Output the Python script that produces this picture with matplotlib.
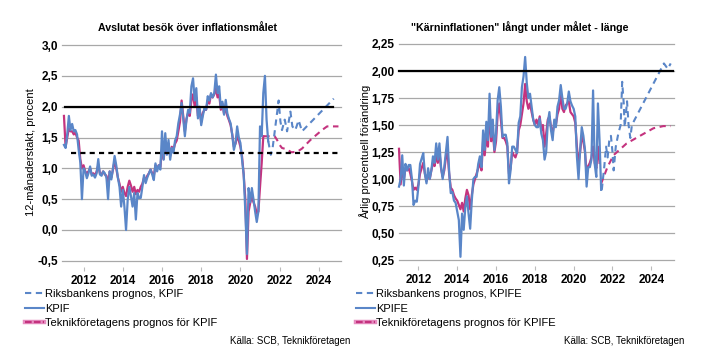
import matplotlib
matplotlib.use("Agg")
import matplotlib.pyplot as plt
import numpy as np
from matplotlib.lines import Line2D
from matplotlib.ticker import FuncFormatter

plt.rcParams['font.family'] = ['Liberation Sans', 'DejaVu Sans']

BLUE = '#5A86C8'
MAGENTA = '#C4337E'
PINK = '#E58CC0'
GRID = '#A8A8A8'

# monthly data from Jan 2011
start_year = 2011

# KPIF, 12-month rate
kpif = [1.38, 1.33, 1.55, 1.85, 1.62, 1.72, 1.6, 1.62, 1.55, 1.3, 1.1, 0.5,
        1.0, 0.95, 0.84, 0.92, 1.03, 0.88, 0.9, 0.85, 0.92, 1.15, 0.9, 0.88,
        0.95, 0.92, 0.85, 0.5, 0.95, 0.82, 1.0, 1.2, 1.05, 0.85, 0.7, 0.38,
        0.65, 0.38, 0.0, 0.49, 0.7, 0.55, 0.38, 0.6, 0.17, 0.6, 0.52, 0.52,
        0.7, 0.89, 0.76, 0.85, 0.92, 0.98, 0.9, 0.81, 1.08, 0.95, 1.05, 0.98,
        1.6, 1.14, 1.57, 1.22, 1.46, 1.14, 1.33, 1.25, 1.45, 1.52, 1.73, 1.87,
        2.06, 1.81, 1.52, 1.79, 1.95, 1.9, 2.33, 2.46, 2.1, 2.3, 1.81, 2.0,
        1.7, 1.85, 1.98, 1.95, 2.17, 2.1, 2.22, 2.15, 2.22, 2.52, 2.22, 2.33,
        1.98, 2.08, 1.87, 2.11, 1.89, 1.8, 1.73, 1.54, 1.3, 1.41, 1.68, 1.5,
        1.41, 1.14, 0.9, 0.3, -0.39, 0.68, 0.45, 0.68, 0.5, 0.3, 0.13, 0.3,
        1.68, 1.52, 2.22, 2.5, 1.79, 1.44]

# Teknikforetagen KPIF (history)
tekn_kpif = [1.85, 1.35, 1.5, 1.65, 1.6, 1.6, 1.55, 1.58, 1.5, 1.45, 1.15, 1.0,
             1.05, 0.95, 0.92, 0.95, 1.0, 0.9, 0.92, 0.88, 0.95, 1.05, 0.92, 0.9,
             0.95, 0.9, 0.88, 0.75, 0.95, 0.85, 0.98, 1.12, 1.0, 0.85, 0.75, 0.62,
             0.7, 0.6, 0.55, 0.7, 0.8, 0.72, 0.62, 0.7, 0.58, 0.65, 0.62, 0.7,
             0.75, 0.85, 0.82, 0.88, 0.92, 0.98, 0.92, 0.88, 1.05, 1.0, 1.05, 1.02,
             1.3, 1.15, 1.35, 1.25, 1.4, 1.2, 1.35, 1.3, 1.4, 1.45, 1.6, 1.75,
             2.1, 1.85, 1.6, 1.8, 1.9, 1.85, 2.1, 2.2, 2.0, 2.15, 1.85, 1.95,
             1.75, 1.9, 1.95, 1.95, 2.1, 2.05, 2.2, 2.15, 2.2, 2.3, 2.15, 2.2,
             1.95, 2.05, 1.88, 2.0, 1.85, 1.78, 1.7, 1.55, 1.35, 1.4, 1.52, 1.45,
             1.35, 1.19, 0.9, 0.5, -0.47, 0.3, 0.44, 0.54, 0.45, 0.38, 0.27, 0.3,
             0.7, 1.08, 1.52]

# forecasts KPIF (decimal years)
riks_kpif_x = [2021.42, 2021.55, 2021.63, 2021.75, 2021.95, 2022.04, 2022.12, 2022.26,
               2022.38, 2022.55, 2022.65, 2022.8, 2022.97, 2023.14, 2024.76]
riks_kpif = [1.44, 1.22, 1.3, 1.6, 2.1, 1.76, 1.62, 1.79, 1.6, 1.92, 1.68, 1.62, 1.78, 1.6, 2.13]

tekn_kpif_fc_x = [2021.17, 2021.75, 2021.87, 2022.0, 2022.12, 2022.35, 2022.6, 2022.9,
                  2023.14, 2023.57, 2024.16, 2024.42, 2025.0]
tekn_kpif_fc = [1.52, 1.52, 1.46, 1.38, 1.33, 1.31, 1.26, 1.27, 1.32, 1.46, 1.62, 1.68, 1.68]

# KPIFE, annual change
kpife = [0.93, 1.0, 1.22, 0.94, 1.14, 1.08, 1.13, 1.13, 1.0, 0.76, 0.8, 0.79,
         0.93, 1.14, 1.19, 1.24, 1.05, 0.96, 1.1, 1.0, 1.08, 1.21, 1.15, 1.33,
         1.18, 1.33, 1.11, 1.0, 1.11, 1.25, 1.39, 1.07, 0.87, 0.88, 0.8, 0.78,
         0.7, 0.62, 0.28, 0.68, 0.53, 0.74, 0.84, 0.68, 0.54, 0.8, 1.0, 1.02,
         1.02, 1.14, 1.21, 1.11, 1.45, 1.27, 1.53, 1.36, 1.79, 1.39, 1.55, 1.27,
         1.42, 1.73, 1.85, 1.67, 1.39, 1.41, 1.41, 1.33, 0.96, 1.08, 1.3, 1.3,
         1.27, 1.24, 1.52, 1.58, 1.85, 1.95, 2.13, 1.89, 1.75, 1.79, 1.67, 1.55,
         1.5, 1.48, 1.48, 1.56, 1.42, 1.36, 1.18, 1.25, 1.52, 1.62, 1.45, 1.36,
         1.55, 1.48, 1.67, 1.73, 1.87, 1.75, 1.65, 1.65, 1.7, 1.81, 1.72, 1.68,
         1.65, 1.58, 1.21, 1.0, 1.27, 1.48, 1.4, 1.27, 0.93, 1.11, 1.11, 1.18,
         1.82, 1.14, 1.02, 1.7, 1.36, 0.9]

tekn_kpife = [1.28, 0.95, 1.1, 1.0, 1.1, 1.08, 1.1, 1.05, 0.98, 0.9, 0.92, 0.9,
              0.95, 1.05, 1.1, 1.15, 1.05, 0.98, 1.05, 1.0, 1.08, 1.15, 1.12, 1.22,
              1.15, 1.25, 1.1, 1.02, 1.08, 1.2, 1.25, 1.05, 0.92, 0.9, 0.85, 0.82,
              0.8, 0.76, 0.72, 0.78, 0.7, 0.82, 0.9, 0.85, 0.72, 0.85, 0.95, 1.0,
              1.05, 1.1, 1.15, 1.08, 1.35, 1.22, 1.42, 1.3, 1.65, 1.35, 1.45, 1.25,
              1.35, 1.6, 1.7, 1.55, 1.38, 1.38, 1.35, 1.3, 1.05, 1.1, 1.25, 1.22,
              1.2, 1.25, 1.45, 1.5, 1.6, 1.7, 1.88, 1.72, 1.65, 1.7, 1.62, 1.55,
              1.5, 1.55, 1.5, 1.58, 1.45, 1.5, 1.3, 1.42, 1.55, 1.58, 1.48, 1.42,
              1.52, 1.5, 1.6, 1.65, 1.8, 1.65, 1.62, 1.68, 1.7, 1.72, 1.62, 1.6,
              1.58, 1.52, 1.3, 1.15, 1.25, 1.4, 1.35, 1.25, 1.05, 1.12, 1.15, 1.2,
              1.3, 1.15, 1.1, 1.3, 1.15]

riks_kpife_x = [2021.45, 2021.58, 2021.67, 2021.75, 2021.83, 2021.92, 2022.0, 2022.06,
                2022.17, 2022.3, 2022.42, 2022.5, 2022.58, 2022.63, 2022.75, 2022.83,
                2022.92, 2023.0, 2024.65, 2024.85, 2025.0]
riks_kpife = [0.9, 1.12, 1.3, 1.2, 1.35, 1.4, 1.25, 1.08, 1.3, 1.42, 1.5, 1.9, 1.7,
              1.48, 1.72, 1.5, 1.38, 1.5, 2.07, 2.02, 2.07]

tekn_kpife_fc_x = [2021.4, 2021.74, 2022.05, 2022.73, 2023.42, 2024.11, 2024.62, 2025.0]
tekn_kpife_fc = [0.95, 1.11, 1.22, 1.33, 1.4, 1.47, 1.49, 1.49]

year_ticks = [2012, 2014, 2016, 2018, 2020, 2022, 2024]


def monthly_x(vals):
    return start_year + np.arange(len(vals)) / 12.0


def comma(dec):
    fmt = '%.' + str(dec) + 'f'
    return FuncFormatter(lambda v, p: (fmt % v).replace('.', ','))


def panel(ax, hist, tekn, rx, ry, tx, ty, yticks, ylim, xlim, dec):
    for y in yticks:
        ax.axhline(y, color=GRID, lw=0.9, zorder=0)
    ax.plot(monthly_x(tekn), tekn, color=MAGENTA, lw=1.6, zorder=3)
    ax.plot(monthly_x(hist), hist, color=BLUE, lw=1.6, zorder=4)
    ax.plot(tx, ty, color=MAGENTA, lw=1.5, dashes=(3, 2.2), zorder=3)
    ax.plot(rx, ry, color=BLUE, lw=1.5, dashes=(3, 2.2), zorder=4)
    ax.set_xlim(*xlim)
    ax.set_ylim(*ylim)
    ax.set_yticks(yticks)
    ax.yaxis.set_major_formatter(comma(dec))
    ax.set_xticks(year_ticks)
    ax.set_xticklabels([str(y) for y in year_ticks])
    for s in ax.spines.values():
        s.set_visible(False)
    ax.tick_params(axis='y', length=0, pad=3, labelsize=8.5)
    ax.tick_params(axis='x', length=3, color='#BBBBBB', pad=3, labelsize=8.5)
    for lab in ax.get_xticklabels() + ax.get_yticklabels():
        lab.set_fontweight('bold')


fig = plt.figure(figsize=(7.23, 3.63), dpi=100)

ax1 = fig.add_axes([62 / 723, 1 - 267 / 363, 279 / 723, 222 / 363])
panel(ax1, kpif, tekn_kpif, riks_kpif_x, riks_kpif, tekn_kpif_fc_x, tekn_kpif_fc,
      [-0.5, 0.0, 0.5, 1.0, 1.5, 2.0, 2.5, 3.0], (-0.6, 3.0), (2010.9, 2025.13), 1)
ax1.plot([2011.07, 2024.74], [2.0, 2.0], color='black', lw=1.6, zorder=5)
ax1.plot([2011.37, 2024.99], [1.25, 1.25], color='black', lw=1.6, dashes=(2.3, 1.9), zorder=5)

ax2 = fig.add_axes([399 / 723, 1 - 266 / 363, 275 / 723, 222 / 363])
panel(ax2, kpife, tekn_kpife, riks_kpife_x, riks_kpife, tekn_kpife_fc_x, tekn_kpife_fc,
      [0.25, 0.5, 0.75, 1.0, 1.25, 1.5, 1.75, 2.0, 2.25], (0.195, 2.25), (2011.0, 2025.17), 2)
ax2.plot([2011.0, 2025.12], [2.0, 2.0], color='black', lw=1.6, zorder=5)
for ax in (ax1, ax2):
    for gl in ax.lines:
        gl.set_clip_on(False)

fig.text(188 / 723, 1 - 28 / 363, 'Avslutat besök över inflationsmålet',
         ha='center', va='center', fontsize=7.7, fontweight='bold')
fig.text(520 / 723, 1 - 27 / 363, '"Kärninflationen" långt under målet - länge',
         ha='center', va='center', fontsize=7.7, fontweight='bold')

fig.text(31 / 723, 1 - 152 / 363, '12-månaderstakt, procent', rotation=90,
         ha='center', va='center', fontsize=8)
fig.text(365 / 723, 1 - 152 / 363, 'Årlig procentuell förändring', rotation=90,
         ha='center', va='center', fontsize=8)

teknik_handle = (Line2D([], [], color=PINK, lw=3.2), Line2D([], [], color=MAGENTA, lw=1.6, dashes=(3, 1)))


def legend(x0, name):
    handles = [Line2D([], [], color=BLUE, lw=1.5, dashes=(3, 2.2)),
               Line2D([], [], color=BLUE, lw=1.5),
               teknik_handle]
    labels = ['Riksbankens prognos, ' + name, name, 'Teknikföretagens prognos för ' + name]
    fig.legend(handles, labels, loc='upper left', bbox_to_anchor=(x0 / 723, 1 - 289 / 363),
               frameon=False, fontsize=8, handlelength=1.7, handletextpad=0.1,
               labelspacing=0.42, borderaxespad=0, borderpad=0)


legend(25, 'KPIF')
legend(356, 'KPIFE')

fig.text(350 / 723, 1 - 341 / 363, 'Källa: SCB, Teknikföretagen', ha='right', va='center', fontsize=7)
fig.text(684 / 723, 1 - 341 / 363, 'Källa: SCB, Teknikföretagen', ha='right', va='center', fontsize=7)

fig.savefig('out.png', dpi=100)
